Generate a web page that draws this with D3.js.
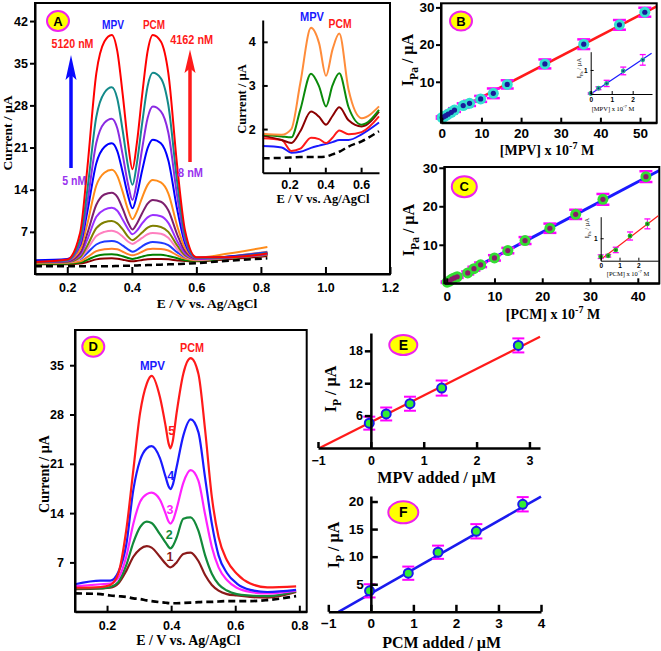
<!DOCTYPE html>
<html><head><meta charset="utf-8">
<script src="https://cdn.jsdelivr.net/npm/d3@7"></script>
<style>body{margin:0;background:#fff}svg{display:block}</style>
</head><body>
<svg id="chart" width="661" height="651"></svg>
<script>
// ---------- Panel A: DPV curves ----------
const eA = [0.10,0.20,0.24,0.262,0.29,0.315,0.338,0.355,0.372,0.388,0.402,0.416,0.432,0.449,0.465,0.49,0.513,0.541,0.565,0.60,0.70,0.82];
const a01Red    = [2.0,2.4,6.9,17.5,33.3,38.6,39.7,37.0,29.7,21.9,17.4,21.9,29.7,37.0,39.7,38.6,33.4,17.7,7.2,2.8,2.8,3.4];
const a02Teal   = [2.0,2.3,5.8,13.9,26.1,30.1,31.0,29.1,23.7,18.0,14.8,18.5,25.0,31.2,33.4,32.5,28.1,15.1,6.4,2.7,2.8,3.5];
const a03Violet = [2.0,2.2,5.1,11.8,21.8,25.1,25.8,24.2,19.7,15.0,12.3,15.4,20.8,25.9,27.8,27.0,23.5,12.8,5.7,2.65,2.75,3.3];
const a04Blue   = [2.3,2.5,4.8,10.3,18.4,21.1,21.7,20.4,16.8,13.1,10.9,13.2,17.2,20.9,22.3,21.7,18.9,10.6,5.1,2.7,2.85,3.4];
const a05Orange = [2.1,2.25,4.1,8.3,14.7,16.8,17.3,16.3,13.6,10.7,9.1,10.4,12.7,14.8,15.6,15.2,13.4,7.9,4.3,2.7,3.4,4.5];
const a06Plum   = [2.0,2.1,3.5,6.7,11.5,13.2,13.5,12.8,10.8,8.6,7.4,8.4,10.1,11.7,12.3,12.0,10.6,6.5,3.8,2.6,2.85,3.4];
const a07Purple = [2.0,2.1,3.2,5.7,9.5,10.7,11.0,10.5,9.0,7.5,6.6,7.2,8.4,9.4,9.8,9.6,8.5,5.4,3.4,2.5,2.75,3.3];
const a08Olive  = [1.9,2.0,2.8,4.7,7.6,8.6,8.8,8.4,7.4,6.2,5.6,6.1,6.9,7.7,8.0,7.8,7.0,4.7,3.1,2.45,2.7,3.2];
const a09Pink   = [1.9,1.95,2.6,4.1,6.3,7.0,7.2,6.9,6.2,5.4,5.0,5.4,6.0,6.6,6.8,6.7,6.0,4.1,2.9,2.35,2.65,3.2];
const a10Blue   = [2.1,2.15,2.5,3.5,4.9,5.4,5.5,5.3,4.7,4.1,3.7,4.0,4.6,5.1,5.3,5.2,4.8,3.6,2.8,2.45,2.9,3.6];
const a11Orange = [1.8,1.85,2.1,2.8,3.8,4.1,4.2,4.1,3.7,3.3,3.1,3.3,3.7,4.1,4.2,4.15,3.9,3.1,2.55,2.3,2.85,3.7];
const a12Green  = [1.7,1.72,1.9,2.35,3.0,3.25,3.3,3.2,2.94,2.66,2.5,2.64,2.89,3.12,3.2,3.2,3.0,2.6,2.3,2.2,2.6,3.2];
const a13Maroon = [1.6,1.61,1.73,2.0,2.43,2.57,2.6,2.54,2.38,2.2,2.1,2.18,2.32,2.45,2.5,2.49,2.43,2.26,2.15,2.1,2.45,3.0];
const a00Blank  = [1.3,1.3,1.3,1.3,1.3,1.3,1.3,1.33,1.35,1.37,1.4,1.42,1.45,1.48,1.5,1.55,1.6,1.65,1.7,1.8,2.2,2.6];
const tickAx = [0.2,0.4,0.6,0.8,1.0,1.2];
const tickAy = [7,14,21,28,35,42];

// Panel A inset
const eAi = [0.05,0.156,0.21,0.26,0.32,0.365,0.404,0.44,0.478,0.53,0.603,0.70];
const ai1Orange = [1.89,1.87,2.0,3.05,4.32,3.97,3.22,3.82,4.19,2.9,2.25,2.52];
const ai2Green  = [1.87,1.83,1.81,2.44,3.27,2.98,2.52,3.0,3.28,2.5,2.10,2.44];
const ai3Maroon = [1.85,1.75,1.68,1.95,2.40,2.28,2.10,2.3,2.50,2.2,2.06,2.40];
const ai4Red    = [1.79,1.75,1.5,1.55,1.8,1.77,1.68,1.8,1.97,1.88,1.93,2.29];
const ai5Blue   = [1.61,1.58,1.46,1.48,1.57,1.62,1.66,1.70,1.75,1.75,1.88,2.15];
const ai0Blank  = [1.33,1.34,1.35,1.36,1.36,1.36,1.37,1.42,1.48,1.6,1.72,1.95];
const tickAix = [0.2,0.4,0.6];
const tickAiy = [2,3,4];

// ---------- Panel B: MPV calibration ----------
const bConc = [0.1,0.5,1.0,1.6,2.4,3.2,5.4,7.0,9.8,13.0,16.5,26.0,35.8,44.8,51.2];
const bCurr = [0.4,0.6,0.9,1.3,1.8,2.4,3.6,4.2,5.4,6.9,9.3,14.8,20.1,25.3,28.7];
const bErr  = [0.3,0.3,0.3,0.3,0.4,0.5,0.6,0.7,0.8,1.3,1.1,1.2,1.3,1.3,1.2];
const bFitX = [0,54.2];
const bFitY = [0.3,30.3];
const tickBx = [0,10,20,30,40,50];
const tickBy = [10,20,30];
const biConc = [0,0.37,0.76,1.55,2.48];
const biCurr = [0.02,0.24,0.44,0.96,1.42];
const biErr  = [0.03,0.06,0.13,0.16,0.22];
const biFitX = [0,2.9];
const biFitY = [0,1.70];
const tickBix = [0,1,2];
const tickBiy = [1];

// ---------- Panel C: PCM calibration ----------
const cConc = [0.1,0.6,1.1,1.6,2.2,4.4,5.7,7.1,10.0,12.8,16.4,21.6,27.0,32.7,41.7];
const cCurr = [0.3,0.6,1.1,1.4,1.7,2.7,3.8,4.8,6.6,8.5,11.1,14.3,17.9,21.8,27.7];
const cErr  = [0.2,0.2,0.3,0.3,0.3,0.4,0.5,0.6,0.7,0.7,0.9,1.2,1.2,1.4,1.4];
const cFitX = [0,44.5];
const cFitY = [0.2,29.3];
const tickCx = [0,10,20,30,40];
const tickCy = [10,20,30];
const ciConc = [0,0.4,0.8,1.56,2.48];
const ciCurr = [0.18,0.22,0.48,1.1,1.64];
const ciErr  = [0.08,0.06,0.12,0.18,0.22];
const ciFitX = [0,3.06];
const ciFitY = [0.05,2.0];
const tickCix = [0,1,2];
const tickCiy = [1];

// ---------- Panel D: real sample DPV ----------
const eD = [0.10,0.18,0.21,0.235,0.26,0.282,0.303,0.324,0.339,0.365,0.383,0.392,0.398,0.405,0.417,0.438,0.461,0.485,0.506,0.527,0.548,0.574,0.605,0.647,0.70,0.79];
const d5Red     = [3.4,3.5,3.8,5.4,11.6,20.1,28.2,32.4,33.5,30.5,26.3,23.9,23.2,24.2,28.2,33.8,36.0,33.8,25.8,16.3,10.6,7.3,5.4,4.0,3.45,3.6];
const d4Blue    = [3.9,4.4,4.4,5.6,9.5,17.3,21.5,23.2,23.5,21.8,19.1,17.8,17.4,18.0,20.5,25.0,27.3,25.5,19.0,12.5,8.0,5.5,4.0,3.1,2.8,3.1];
const d3Magenta = [3.6,3.9,4.0,4.8,7.8,12.5,15.6,16.7,16.9,15.9,13.9,12.8,12.5,12.9,14.6,18.3,20.1,18.6,13.8,9.2,6.3,4.5,3.4,2.8,2.6,3.0];
const d2Green   = [3.3,3.3,3.5,4.2,6.6,9.8,12.0,12.8,12.6,11.0,9.8,9.2,9.0,9.3,10.5,13.2,13.4,11.5,8.0,5.4,3.9,3.0,2.5,2.3,2.2,2.9];
const d1Maroon  = [3.2,3.3,3.4,4.0,5.8,7.8,8.9,9.3,9.1,7.8,6.8,6.4,6.3,6.45,7.0,8.2,8.4,7.2,5.2,3.8,3.0,2.5,2.3,2.1,2.0,2.8];
const d0Blank   = [2.6,2.5,2.3,2.2,2.1,1.9,1.8,1.6,1.5,1.35,1.27,1.22,1.2,1.2,1.2,1.25,1.3,1.35,1.4,1.4,1.45,1.5,1.5,1.5,1.65,2.2];
const tickDx = [0.2,0.4,0.6,0.8];
const tickDy = [7,14,21,28,35];

// ---------- Panel E / F: standard addition ----------
const eAdded = [-0.03,0.29,0.74,1.34,2.79];
const eIp    = [4.6,6.3,8.2,11.1,19.0];
const eErr   = [1.2,1.2,1.3,1.4,1.3];
const eFitX  = [-0.97,3.2];
const eFitY  = [0,20.6];
const tickEx = [-1,0,1,2,3];
const tickEy = [6,12,18];
const fAdded = [-0.03,0.88,1.58,2.48,3.57];
const fIp    = [3.8,7.0,10.8,14.6,19.5];
const fErr   = [1.2,1.2,1.2,1.3,1.3];
const fFitX  = [-0.76,4.0];
const fFitY  = [0,20.9];
const tickFx = [-1,0,1,2,3,4];
const tickFy = [5,10,15,20];

// ================= drawing =================
const SANS = "'Liberation Sans', Arial, Helvetica, sans-serif";
const SERIF = "'Liberation Serif', 'Times New Roman', Times, serif";
const svg = d3.select("#chart");
const fmt1 = d3.format(".1f");
const fmtI = d3.format("d");

function styleAxis(sel, fs, sw) {
  sel.attr("font-family", SANS).attr("font-size", fs).attr("font-weight", "bold");
  sel.selectAll("path.domain").attr("stroke", "#000").attr("stroke-width", sw || 2);
  sel.selectAll(".tick line").attr("stroke", "#000").attr("stroke-width", sw || 2);
  sel.selectAll(".tick text").attr("fill", "#000");
}
function badge(cx, cy, rx, ry, letter, fs) {
  svg.append("ellipse").attr("cx", cx).attr("cy", cy).attr("rx", rx).attr("ry", ry)
    .attr("fill", "#ffff00").attr("stroke", "#ee22ee").attr("stroke-width", 2);
  svg.append("text").attr("x", cx).attr("y", cy).attr("dy", "0.36em").attr("text-anchor", "middle")
    .attr("font-family", SANS).attr("font-weight", "bold").attr("font-size", fs).attr("fill", "#000").text(letter);
}
function label(x, y, txt, color, fs, len) {
  const t = svg.append("text").attr("x", x).attr("y", y).attr("text-anchor", "middle")
    .attr("font-family", SANS).attr("font-weight", "bold").attr("font-size", fs).attr("fill", color).text(txt);
  if (len) t.attr("textLength", len).attr("lengthAdjust", "spacingAndGlyphs");
  return t;
}
function addParts(t, parts, fs) {
  let prev = 0;
  parts.forEach(([s, k]) => {
    const off = k === "sub" ? fs * 0.3 : k === "sup" ? -fs * 0.42 : 0;
    t.append("tspan").attr("dy", off - prev).attr("font-size", k === "n" ? fs : fs * 0.72).text(s);
    prev = off;
  });
}
function htitle(x, y, parts, fs, weight) {
  const t = svg.append("text").attr("x", x).attr("y", y).attr("text-anchor", "middle")
    .attr("font-family", SERIF).attr("font-weight", weight || "bold").attr("font-size", fs).attr("fill", "#000");
  addParts(t, parts, fs);
}
function vtitle(x, y, parts, fs, weight) {
  const t = svg.append("text").attr("transform", `translate(${x},${y}) rotate(-90)`).attr("text-anchor", "middle")
    .attr("font-family", SERIF).attr("font-weight", weight || "bold").attr("font-size", fs).attr("fill", "#000");
  addParts(t, parts, fs);
}
function frame(x0, y0, x1, y1) {
  svg.append("rect").attr("x", x0).attr("y", y0).attr("width", x1 - x0).attr("height", y1 - y0)
    .attr("fill", "none").attr("stroke", "#000").attr("stroke-width", 2);
}
function curves(g, xs, x, y, list, sw) {
  const ln = d3.line().x((d, i) => x(xs[i])).y(d => y(d)).curve(d3.curveMonotoneX);
  list.forEach(([vals, col, dash]) => {
    g.append("path").attr("d", ln(vals)).attr("fill", "none").attr("stroke", col)
      .attr("stroke-width", dash ? sw + 0.5 : sw).attr("stroke-dasharray", dash ? "7,4" : null)
      .attr("stroke-linejoin", "round");
  });
}
function errPoints(g, x, y, xs, ys, es, o) {
  const pts = xs.map((v, i) => ({ x: x(v), y: y(ys[i]), t: y(ys[i] + es[i]), b: y(ys[i] - es[i]) }));
  const gg = g.append("g");
  pts.forEach(p => {
    gg.append("line").attr("x1", p.x).attr("x2", p.x).attr("y1", p.t).attr("y2", p.b)
      .attr("stroke", o.ebc).attr("stroke-width", o.ebw);
    [p.t, p.b].forEach(yy => gg.append("line").attr("x1", p.x - o.cap).attr("x2", p.x + o.cap)
      .attr("y1", yy).attr("y2", yy).attr("stroke", o.ebc).attr("stroke-width", o.capw));
  });
  gg.selectAll("circle.o").data(pts).join("circle").attr("cx", d => d.x).attr("cy", d => d.y)
    .attr("r", o.r).attr("fill", o.fill).attr("stroke", o.stroke || "none").attr("stroke-width", o.sw || 0);
  if (o.dot) gg.selectAll("circle.d").data(pts).join("circle").attr("cx", d => d.x).attr("cy", d => d.y)
    .attr("r", o.dotr).attr("fill", o.dot);
}
function fitLine(g, x, y, fx, fy, col, w) {
  g.append("line").attr("x1", x(fx[0])).attr("y1", y(fy[0])).attr("x2", x(fx[1])).attr("y2", y(fy[1]))
    .attr("stroke", col).attr("stroke-width", w);
}

// ---------------- Panel A ----------------
{
  const x = d3.scaleLinear().domain([0.1, 1.2]).range([35, 390]);
  const y = d3.scaleLinear().domain([0, 45]).range([274, 3]);
  const g = svg.append("g");
  curves(g, eA, x, y, [
    [a13Maroon, "#8b0000"], [a12Green, "#008000"], [a11Orange, "#ff7f27"], [a10Blue, "#1f3bff"],
    [a09Pink, "#ff7fbf"], [a08Olive, "#7f8000"], [a07Purple, "#9a30ff"], [a06Plum, "#7d1f6e"],
    [a05Orange, "#ff8c1a"], [a04Blue, "#0000ff"], [a03Violet, "#8a2be2"], [a02Teal, "#138a8a"],
    [a01Red, "#ff0000"], [a00Blank, "#000", true]
  ], 2);
  svg.append("g").attr("transform", "translate(0,274)")
    .call(d3.axisBottom(x).tickValues(tickAx).tickFormat(fmt1).tickSizeInner(-7).tickSizeOuter(0).tickPadding(9))
    .call(styleAxis, 12.5);
  svg.append("g").attr("transform", "translate(35,0)")
    .call(d3.axisLeft(y).tickValues(tickAy).tickFormat(fmtI).tickSizeInner(5).tickSizeOuter(0).tickPadding(2))
    .call(styleAxis, 12.5);
  frame(35, 3, 390, 274);
  vtitle(12, 133, [["Current / µA", "n"]], 13.5);
  htitle(207, 308, [["E / V vs. Ag/AgCl", "n"]], 13.5);
  badge(58, 21, 11, 10, "A", 13);
  label(113, 28.5, "MPV", "#1a1aff", 12.5, 22);
  label(154, 28.5, "PCM", "#ff1a1a", 12.5, 22);
  label(72.5, 48, "5120 nM", "#ff1a1a", 12.5, 42);
  label(191.7, 43.5, "4162 nM", "#ff1a1a", 12.5, 43);
  label(74.3, 185, "5 nM", "#9933ee", 12.5, 24);
  label(190.5, 176.7, "8 nM", "#9933ee", 12.5, 25);
  svg.append("line").attr("x1", 71).attr("x2", 71).attr("y1", 168).attr("y2", 72).attr("stroke", "#0a0aff").attr("stroke-width", 3.5);
  svg.append("path").attr("d", "M71,55 L76.5,80 L71,75 L65.5,80 Z").attr("fill", "#0a0aff");
  svg.append("line").attr("x1", 190).attr("x2", 190).attr("y1", 162).attr("y2", 66).attr("stroke", "#ff1a1a").attr("stroke-width", 3.5);
  svg.append("path").attr("d", "M190,49.5 L195.5,73 L190,68.5 L184.5,73 Z").attr("fill", "#ff1a1a");

  // inset
  const xi = d3.scaleLinear().domain([0.05, 0.7]).range([262.7, 379]);
  const yi = d3.scaleLinear().domain([1.0, 4.5]).range([172.7, 20]);
  const gi = svg.append("g");
  curves(gi, eAi, xi, yi, [
    [ai5Blue, "#1a1aff"], [ai4Red, "#ff1a1a"], [ai3Maroon, "#8b0000"], [ai2Green, "#0a8a0a"],
    [ai1Orange, "#ff8c3a"], [ai0Blank, "#000", true]
  ], 2);
  svg.append("g").attr("transform", "translate(0,172.7)")
    .call(d3.axisBottom(xi).tickValues(tickAix).tickFormat(fmt1).tickSizeInner(-5).tickSizeOuter(0).tickPadding(7))
    .call(styleAxis, 12.5);
  svg.append("g").attr("transform", "translate(262.7,0)")
    .call(d3.axisLeft(yi).tickValues(tickAiy).tickFormat(fmtI).tickSizeInner(-5).tickSizeOuter(0).tickPadding(7))
    .call(styleAxis, 12.5);
  vtitle(246, 99, [["Current / µA", "n"]], 12.5);
  htitle(323, 203, [["E / V vs. Ag/AgCl", "n"]], 12.5);
  label(312, 20.7, "MPV", "#1a1aff", 12, 24);
  label(340, 27.7, "PCM", "#ff1a1a", 12, 23);
}

// ---------------- Panel B ----------------
{
  const x = d3.scaleLinear().domain([-0.2, 54.2]).range([441, 656.7]);
  const y = d3.scaleLinear().domain([-1.0, 31.1]).range([122.7, 3.3]);
  const g = svg.append("g");
  fitLine(g, x, y, bFitX, bFitY, "#ff1a1a", 2.5);
  errPoints(g, x, y, bConc, bCurr, bErr, { ebc: "#ff00ff", ebw: 2, cap: 6.5, capw: 2.5, r: 5.5, fill: "#33e0d0", dot: "#1a1a9a", dotr: 2.6 });
  svg.append("g").attr("transform", "translate(0,122.7)")
    .call(d3.axisBottom(x).tickValues(tickBx).tickFormat(fmtI).tickSizeInner(-5).tickSizeOuter(0).tickPadding(6))
    .call(styleAxis, 13.5);
  svg.append("g").attr("transform", "translate(441,0)")
    .call(d3.axisLeft(y).tickValues(tickBy).tickFormat(fmtI).tickSizeInner(5).tickSizeOuter(0).tickPadding(1.5))
    .call(styleAxis, 13.5);
  frame(441, 3.3, 656.7, 122.7);
  vtitle(413, 60, [["I", "n"], ["Pa", "sub"], [" / µA", "n"]], 16);
  htitle(547, 155, [["[MPV] x 10", "n"], ["-7", "sup"], [" M", "n"]], 14);
  badge(461, 21, 11, 9.5, "B", 13);
  // inset
  const xi = d3.scaleLinear().domain([0, 2.92]).range([590.7, 652]);
  const yi = d3.scaleLinear().domain([0, 1.76]).range([94, 51.7]);
  const gi = svg.append("g");
  fitLine(gi, xi, yi, biFitX, biFitY, "#1a1aff", 1.2);
  errPoints(gi, xi, yi, biConc, biCurr, biErr, { ebc: "#ff00ff", ebw: 1, cap: 3, capw: 1.3, r: 2.4, fill: "#1fb58a", dot: "#1a1a9a", dotr: 1 });
  svg.append("g").attr("transform", "translate(0,94)")
    .call(d3.axisBottom(xi).tickValues(tickBix).tickFormat(fmtI).tickSizeInner(-3).tickSizeOuter(0).tickPadding(3))
    .call(styleAxis, 6.5, 1);
  svg.append("g").attr("transform", "translate(590.7,0)")
    .call(d3.axisLeft(yi).tickValues(tickBiy).tickFormat(fmtI).tickSizeInner(-3).tickSizeOuter(0).tickPadding(3))
    .call(styleAxis, 6.5, 1);
  vtitle(581, 68, [["I", "n"], ["Pa", "sub"], [" / µA", "n"]], 6.5, "normal");
  htitle(613, 111, [["[MPV] x 10", "n"], ["-7", "sup"], [" M", "n"]], 6.5, "normal");
}

// ---------------- Panel C ----------------
{
  const x = d3.scaleLinear().domain([-0.5, 44.5]).range([444.3, 659.3]);
  const y = d3.scaleLinear().domain([0, 30.2]).range([283.3, 167]);
  const g = svg.append("g");
  fitLine(g, x, y, cFitX, cFitY, "#1a1aff", 3);
  errPoints(g, x, y, cConc, cCurr, cErr, { ebc: "#ff00ff", ebw: 2, cap: 6.5, capw: 2.5, r: 5.5, fill: "#33dd33", dot: "#8b1a6a", dotr: 2.6 });
  svg.append("g").attr("transform", "translate(0,283.3)")
    .call(d3.axisBottom(x).tickValues(tickCx).tickFormat(fmtI).tickSizeInner(-5).tickSizeOuter(0).tickPadding(8))
    .call(styleAxis, 13.5);
  svg.append("g").attr("transform", "translate(444.3,0)")
    .call(d3.axisLeft(y).tickValues(tickCy).tickFormat(fmtI).tickSizeInner(5).tickSizeOuter(0).tickPadding(1.5))
    .call(styleAxis, 13.5);
  frame(444.3, 167, 659.3, 283.3);
  vtitle(414, 230, [["I", "n"], ["Pa", "sub"], [" / µA", "n"]], 16);
  htitle(553, 319, [["[PCM] x 10", "n"], ["-7", "sup"], [" M", "n"]], 14);
  badge(464.3, 186.7, 12.5, 10.5, "C", 13);
  // inset
  const xi = d3.scaleLinear().domain([0, 3.06]).range([600.7, 658.3]);
  const yi = d3.scaleLinear().domain([0, 1.96]).range([260.7, 216.7]);
  const gi = svg.append("g");
  fitLine(gi, xi, yi, ciFitX, ciFitY, "#ff1a1a", 1.2);
  errPoints(gi, xi, yi, ciConc, ciCurr, ciErr, { ebc: "#ff00ff", ebw: 1, cap: 3, capw: 1.3, r: 2.4, fill: "#22bb22", dot: "#1a5a1a", dotr: 1 });
  svg.append("g").attr("transform", "translate(0,260.7)")
    .call(d3.axisBottom(xi).tickValues(tickCix).tickFormat(fmtI).tickSizeInner(-3).tickSizeOuter(0).tickPadding(3))
    .call(styleAxis, 6.5, 1);
  svg.append("g").attr("transform", "translate(600.7,0)")
    .call(d3.axisLeft(yi).tickValues(tickCiy).tickFormat(fmtI).tickSizeInner(-3).tickSizeOuter(0).tickPadding(3))
    .call(styleAxis, 6.5, 1);
  vtitle(589, 228, [["I", "n"], ["Pa", "sub"], [" / µA", "n"]], 6.5, "normal");
  htitle(628, 276, [["[PCM] x 10", "n"], ["-7", "sup"], [" M", "n"]], 6.5, "normal");
}

// ---------------- Panel D ----------------
{
  const x = d3.scaleLinear().domain([0.1, 0.823]).range([75, 306.7]);
  const y = d3.scaleLinear().domain([0, 40]).range([611.7, 330]);
  const g = svg.append("g");
  curves(g, eD, x, y, [
    [d1Maroon, "#8b1a1a"], [d2Green, "#138a3a"], [d3Magenta, "#ff22ff"], [d4Blue, "#1a1aff"],
    [d5Red, "#ff1a1a"], [d0Blank, "#000", true]
  ], 2.2);
  svg.append("g").attr("transform", "translate(0,611.7)")
    .call(d3.axisBottom(x).tickValues(tickDx).tickFormat(fmt1).tickSizeInner(-6).tickSizeOuter(0).tickPadding(9))
    .call(styleAxis, 12.5);
  svg.append("g").attr("transform", "translate(75,0)")
    .call(d3.axisLeft(y).tickValues(tickDy).tickFormat(fmtI).tickSizeInner(5).tickSizeOuter(0).tickPadding(6))
    .call(styleAxis, 12.5);
  frame(75, 330, 306.7, 611.7);
  vtitle(49, 474, [["Current / µA", "n"]], 14);
  htitle(188.3, 645, [["E / V vs. Ag/AgCl", "n"]], 14);
  badge(93.3, 346.7, 11, 10, "D", 13);
  label(152.5, 370, "MPV", "#1a1aff", 12.5, 25);
  label(192, 351.7, "PCM", "#ff1a1a", 12.5, 24);
  label(171.7, 435, "5", "#ff1a1a", 12.5);
  label(170.7, 480, "4", "#1a1aff", 12.5);
  label(170, 514, "3", "#ff22ff", 12.5);
  label(169.3, 539.3, "2", "#138a3a", 12.5);
  label(170, 560.7, "1", "#8b1a1a", 12.5);
}

// ---------------- Panel E ----------------
{
  const x = d3.scaleLinear().domain([-1, 3.2]).range([318, 540]);
  const y = d3.scaleLinear().domain([0, 21.3]).range([448, 333]);
  const g = svg.append("g");
  svg.append("g").attr("transform", "translate(0,448)")
    .call(d3.axisBottom(x).tickValues(tickEx).tickFormat(fmtI).tickSizeInner(-6).tickSizeOuter(0).tickPadding(8))
    .call(styleAxis, 12.5, 2.5);
  svg.append("g").attr("transform", `translate(${x(0)},0)`)
    .call(d3.axisLeft(y).tickValues(tickEy).tickFormat(fmtI).tickSizeInner(6).tickSizeOuter(0).tickPadding(2))
    .call(styleAxis, 12.5, 2.5);
  fitLine(g, x, y, eFitX, eFitY, "#ff1a1a", 2.2);
  errPoints(g, x, y, eAdded, eIp, eErr, { ebc: "#ff00ff", ebw: 1.8, cap: 6, capw: 2, r: 4.5, fill: "#33ee33", stroke: "#1a1aee", sw: 2 });
  vtitle(336, 389, [["I", "n"], ["P", "sub"], [" / µA", "n"]], 16);
  htitle(436.7, 483, [["MPV added / µM", "n"]], 16);
  badge(403.3, 345, 14, 10, "E", 14);
}

// ---------------- Panel F ----------------
{
  const x = d3.scaleLinear().domain([-1, 4]).range([328.3, 541]);
  const y = d3.scaleLinear().domain([0, 21]).range([611.8, 496]);
  const g = svg.append("g");
  svg.append("g").attr("transform", "translate(0,611.8)")
    .call(d3.axisBottom(x).tickValues(tickFx).tickFormat(fmtI).tickSizeInner(-7).tickSizeOuter(0).tickPadding(7))
    .call(styleAxis, 13.5, 2.5);
  svg.append("g").attr("transform", `translate(${x(0)},0)`)
    .call(d3.axisLeft(y).tickValues(tickFy).tickFormat(fmtI).tickSizeInner(-7).tickSizeOuter(0).tickPadding(7))
    .call(styleAxis, 13.5, 2.5);
  fitLine(g, x, y, fFitX, fFitY, "#1a1aee", 2.5);
  errPoints(g, x, y, fAdded, fIp, fErr, { ebc: "#ff00ff", ebw: 1.8, cap: 6, capw: 2, r: 4.5, fill: "#33ee33", stroke: "#1a1aee", sw: 2 });
  vtitle(339, 545, [["I", "n"], ["P", "sub"], [" / µA", "n"]], 16);
  htitle(441.7, 647.5, [["PCM added / µM", "n"]], 16);
  badge(403.3, 512.3, 15, 11, "F", 14);
}
</script>
</body></html>
